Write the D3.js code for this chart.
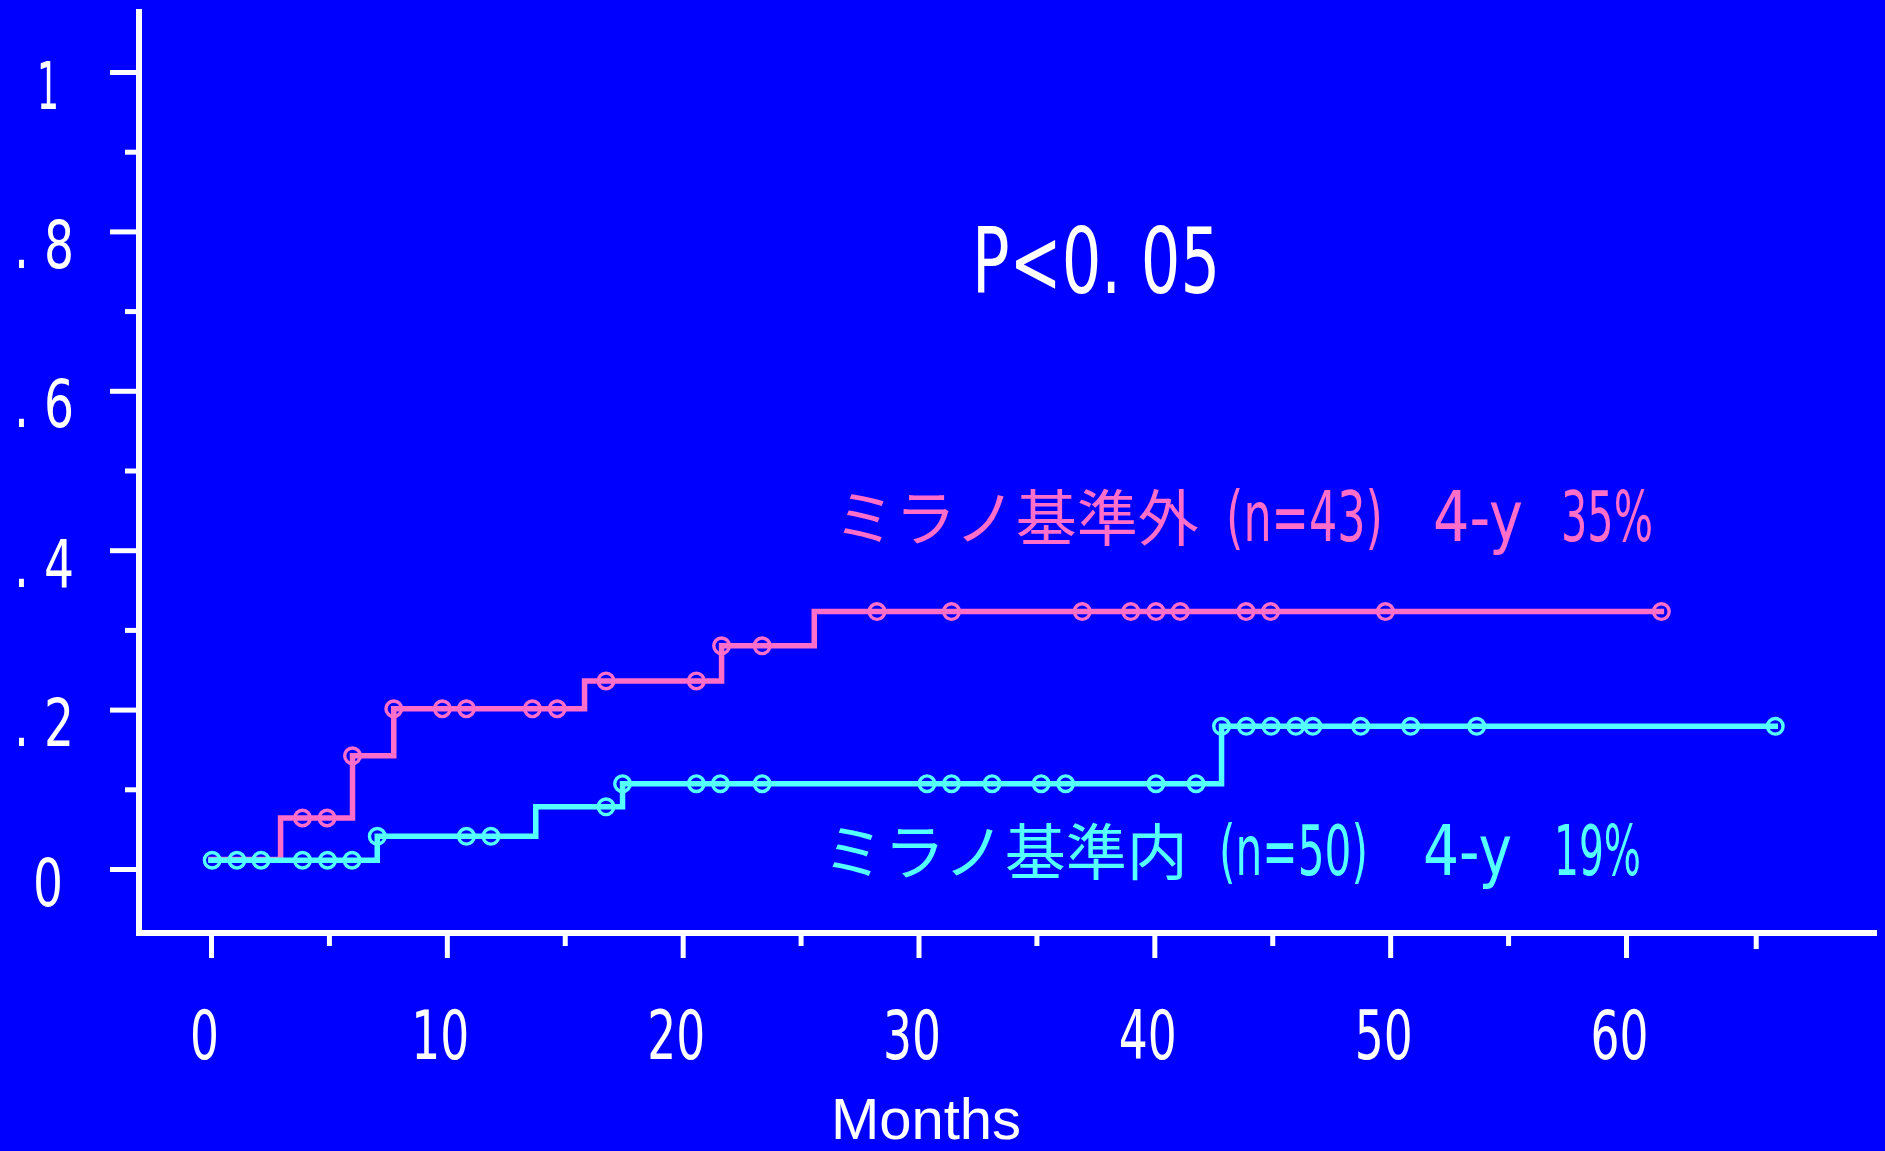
<!DOCTYPE html>
<html>
<head>
<meta charset="utf-8">
<script src="https://cdn.jsdelivr.net/npm/d3@7"></script>
<style>
  html, body { margin: 0; padding: 0; background: #0000ff; }
  svg { display: block; }
</style>
</head>
<body>
<div id="chart-container"></div>
<script>
// Cumulative incidence by Milan criteria
const outsideStepTimes = [0, 2.95, 6.0, 7.75, 15.84, 21.65, 25.58];
const outsideStepValues = [0.012, 0.064, 0.142, 0.201, 0.236, 0.280, 0.323];
const outsideEndTime = 61.5;
const outsideCensorTimes = [3.88, 4.92, 6.0, 7.75, 9.81, 10.83, 13.63, 14.68, 16.75, 20.58, 21.65, 23.37,
  28.24, 31.4, 36.94, 39.0, 40.07, 41.1, 43.89, 44.93, 49.8, 61.5];

const insideStepTimes = [0, 7.05, 13.77, 17.45, 42.85];
const insideStepValues = [0.011, 0.041, 0.078, 0.107, 0.179];
const insideEndTime = 66.33;
const insideCensorTimes = [0.05, 1.1, 2.12, 3.88, 4.94, 5.98, 7.05, 10.83, 11.87, 16.75, 17.45, 20.58,
  21.6, 23.37, 30.36, 31.4, 33.12, 35.2, 36.24, 40.07, 41.77, 42.85, 43.9, 44.95, 46.0, 46.72,
  48.75, 50.87, 53.67, 66.33];

// Axis ticks and labels
const xTickValues = [0, 10, 20, 30, 40, 50, 60];
const xMinorTicks = [5, 15, 25, 35, 45, 55];
const xExtraTicks = [65.5];
const yTickValues = [0, 0.2, 0.4, 0.6, 0.8, 1];
const yTickLabels = ["0", ". 2", ". 4", ". 6", ". 8", "1"];
const yMinorTicks = [0.1, 0.3, 0.5, 0.7, 0.9];

const outsideLabel = ["ミラノ基準外", "(n=43)", "4-y", "35%"];
const insideLabel = ["ミラノ基準内", "(n=50)", "4-y", "19%"];
const pLabel = "P<0. 05";
const xTitle = "Months";

// Layout
const width = 1885;
const height = 1151;
const bg = "#0000ff";
const pink = "#ff6ec8";
const cyan = "#55ffff";
const narrowFont = "'Liberation Sans Narrow', 'Arial Narrow', 'DejaVu Sans Condensed', sans-serif";
const jpFont = "'Noto Sans CJK JP', 'Noto Sans CJK SC', sans-serif";

const x = d3.scaleLinear().domain([0, 60]).range([211, 1626]);
const y = d3.scaleLinear().domain([0, 1]).range([869, 72]);
const axisX = 139; // y-axis position
const axisY = 933; // x-axis position

const svg = d3.select("#chart-container")
  .append("svg")
  .attr("width", width)
  .attr("height", height);

svg.append("rect")
  .attr("width", width)
  .attr("height", height)
  .attr("fill", bg);

// squeeze a text horizontally to a target width (the original uses a very narrow face)
function condense(sel, px, py, targetWidth) {
  sel.each(function (d, i) {
    const node = d3.select(this);
    const w = this.getComputedTextLength();
    const tw = typeof targetWidth === "function" ? targetWidth(d, i) : targetWidth;
    const sx = tw && w ? tw / w : 1;
    const tx = typeof px === "function" ? px(d, i) : px;
    const ty = typeof py === "function" ? py(d, i) : py;
    node.attr("x", 0).attr("y", 0).attr("dx", null).attr("dy", null)
      .attr("transform", `translate(${tx},${ty}) scale(${sx},1)`);
  });
}

// Y axis
const yMajor = svg.append("g")
  .attr("transform", `translate(${axisX},0)`)
  .call(d3.axisLeft(y).tickValues(yTickValues).tickSize(29)
    .tickFormat((d, i) => yTickLabels[i]));
const yMinor = svg.append("g")
  .attr("transform", `translate(${axisX},0)`)
  .call(d3.axisLeft(y).tickValues(yMinorTicks).tickSize(14).tickFormat(""));

yMajor.selectAll("text")
  .attr("text-anchor", (d, i) => yTickLabels[i].length === 1 ? "middle" : "end")
  .style("font-family", narrowFont)
  .style("font-size", "66px")
  .style("fill", "white")
  .call(condense,
    (d, i) => (yTickLabels[i].length === 1 ? 48 : 74) - axisX,
    36,
    (d, i) => yTickLabels[i] === "1" ? 22 : (yTickLabels[i].length === 1 ? 30 : 60));

// X axis
const xMajor = svg.append("g")
  .attr("transform", `translate(0,${axisY})`)
  .call(d3.axisBottom(x).tickValues(xTickValues).tickSize(25).tickFormat(d3.format("d")));
const xMinor = svg.append("g")
  .attr("transform", `translate(0,${axisY})`)
  .call(d3.axisBottom(x).tickValues(xMinorTicks).tickSize(13).tickFormat(""));
const xExtra = svg.append("g")
  .attr("transform", `translate(0,${axisY})`)
  .call(d3.axisBottom(x).tickValues(xExtraTicks).tickSize(16).tickFormat(""));

xMajor.selectAll("text")
  .attr("text-anchor", "middle")
  .style("font-family", narrowFont)
  .style("font-size", "68px")
  .style("fill", "white")
  .call(condense, -7, 126, (d) => String(d).length * 29);

[yMajor, yMinor, xMajor, xMinor, xExtra].forEach((g) => {
  g.select(".domain").remove();
  g.selectAll(".tick line")
    .attr("stroke", "white")
    .attr("stroke-width", 5);
});

// Axis lines
svg.append("line")
  .attr("x1", axisX).attr("x2", axisX)
  .attr("y1", 9).attr("y2", axisY + 3)
  .attr("stroke", "white")
  .attr("stroke-width", 6);
svg.append("line")
  .attr("x1", axisX - 3).attr("x2", 1877)
  .attr("y1", axisY).attr("y2", axisY)
  .attr("stroke", "white")
  .attr("stroke-width", 6);

// Step curves
function stepValue(times, values, t) {
  const i = d3.bisectRight(times, t + 1e-9) - 1;
  return values[Math.max(0, i)];
}

const stepLine = d3.line()
  .x((d) => x(d[0]))
  .y((d) => y(d[1]))
  .curve(d3.curveStepAfter);

const series = [
  { times: outsideStepTimes, values: outsideStepValues, end: outsideEndTime, censor: outsideCensorTimes, color: pink },
  { times: insideStepTimes, values: insideStepValues, end: insideEndTime, censor: insideCensorTimes, color: cyan },
];

series.forEach((s) => {
  const pts = s.times.map((t, i) => [t, s.values[i]]);
  pts.push([s.end, s.values[s.values.length - 1]]);

  svg.append("path")
    .datum(pts)
    .attr("d", stepLine)
    .attr("fill", "none")
    .attr("stroke", s.color)
    .attr("stroke-width", 5.5)
    .attr("stroke-linejoin", "miter")
    .attr("stroke-linecap", "square");

  svg.append("g")
    .selectAll("circle")
    .data(s.censor)
    .join("circle")
    .attr("cx", (t) => x(t))
    .attr("cy", (t) => y(stepValue(s.times, s.values, t)))
    .attr("r", 7.8)
    .attr("fill", "none")
    .attr("stroke", s.color)
    .attr("stroke-width", 3.4);
});

// Group labels
function groupLabel(parts, color, baseline, jpX, segs) {
  svg.append("text")
    .attr("x", jpX)
    .attr("y", baseline)
    .style("font-family", jpFont)
    .style("font-size", "61px")
    .style("fill", color)
    .text(parts[0]);
  segs.forEach((seg, i) => {
    svg.append("text")
      .style("font-family", narrowFont)
      .style("font-size", "70px")
      .style("fill", color)
      .text(parts[i + 1])
      .call(condense, seg[0], baseline, seg[1]);
  });
}

groupLabel(outsideLabel, pink, 541, 834, [[1226, 157], [1433, 90], [1561, 92]]);
groupLabel(insideLabel, cyan, 875, 823, [[1219, 149], [1423, 89], [1554, 87]]);

// P value
svg.append("text")
  .style("font-family", narrowFont)
  .style("font-size", "90px")
  .style("fill", "white")
  .text(pLabel)
  .call(condense, 972, 293, 248);

// X axis title
svg.append("text")
  .attr("x", 926)
  .attr("y", 1139)
  .attr("text-anchor", "middle")
  .style("font-family", "'Liberation Sans', Arial, sans-serif")
  .style("font-size", "58px")
  .style("fill", "white")
  .text(xTitle);
</script>
</body>
</html>
